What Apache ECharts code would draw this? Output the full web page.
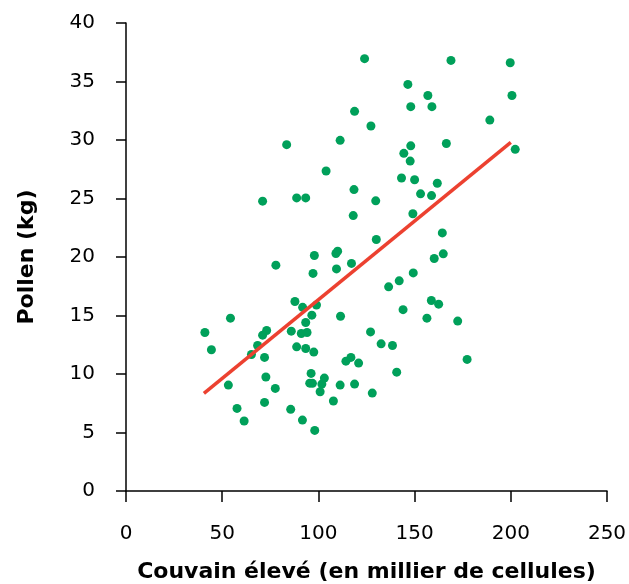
<!DOCTYPE html>
<html>
<head>
<meta charset="utf-8">
<script src="https://cdn.jsdelivr.net/npm/echarts@6/dist/echarts.min.js"></script>
<style>
  html, body { margin: 0; padding: 0; background: #fff; }
  #chart { width: 629px; height: 584px; }
</style>
</head>
<body>
<div id="chart"></div>
<script>
// couvain (milliers de cellules) vs pollen (kg)
var broodX = [
  124.0, 168.9, 199.7, 146.5, 156.9, 148.0, 159.0, 200.6, 118.8, 127.3,
  189.1, 111.3, 148.0, 166.5, 144.4, 147.7, 202.3, 143.2, 150.0, 83.5,
  104.0, 71.0, 88.7, 93.4, 97.9, 77.9, 97.2, 109.1, 110.0, 109.4,
  87.8, 91.8, 99.0, 161.8, 118.5, 129.8, 153.1, 158.8, 118.1, 149.1,
  164.4, 130.1, 117.2, 160.2, 164.9, 149.3, 142.0, 136.5, 158.7, 162.5,
  144.0, 54.3, 41.0, 44.4, 73.1, 71.0, 68.4, 65.2, 72.0, 96.6,
  93.4, 85.9, 91.1, 94.1, 88.7, 93.4, 97.6, 111.5, 72.7, 53.2,
  77.6, 72.0, 57.7, 61.4, 96.2, 95.5, 96.9, 103.1, 101.8, 100.9,
  111.3, 107.8, 85.6, 91.7, 98.1, 156.4, 172.4, 127.1, 132.6, 138.5,
  116.9, 114.3, 120.9, 177.3, 140.7, 118.8, 128.0
];
var pollenY = [
  36.95, 36.8, 36.6, 34.75, 33.8, 32.85, 32.85, 33.8, 32.45, 31.2,
  31.7, 29.97, 29.5, 29.7, 28.86, 28.2, 29.2, 26.75, 26.6, 29.6,
  27.35, 24.77, 25.05, 25.05, 20.13, 19.3, 18.6, 20.3, 20.5, 18.98,
  16.2, 15.7, 15.9, 26.3, 25.76, 24.8, 25.4, 25.25, 23.54, 23.7,
  22.06, 21.5, 19.45, 19.87, 20.27, 18.64, 17.96, 17.45, 16.28, 15.97,
  15.5, 14.77, 13.55, 12.07, 13.72, 13.32, 12.44, 11.67, 11.42, 15.03,
  14.4, 13.66, 13.46, 13.55, 12.32, 12.18, 11.87, 14.94, 9.74, 9.05,
  8.77, 7.57, 7.06, 5.98, 10.05, 9.22, 9.2, 9.65, 9.14, 8.48,
  9.05, 7.69, 6.98, 6.06, 5.18, 14.77, 14.52, 13.6, 12.58, 12.44,
  11.42, 11.1, 10.93, 11.25, 10.16, 9.14, 8.37
];
// droite de tendance (ends)
var trendX = [40.5, 200];
var trendY = [8.35, 29.8];

var xTicks = { min: 0, max: 250, step: 50 };
var yTicks = { min: 0, max: 40, step: 5 };

var points = broodX.map(function (x, i) { return [x, pollenY[i]]; });
var trend = trendX.map(function (x, i) { return [x, trendY[i]]; });

var font = '"DejaVu Sans", "Liberation Sans", sans-serif';
var chart = echarts.init(document.getElementById('chart'));
chart.setOption({
  animation: false,
  grid: { left: 126, right: 22, top: 23, bottom: 93, outerBoundsMode: 'none' },
  xAxis: {
    type: 'value',
    min: xTicks.min, max: xTicks.max, interval: xTicks.step,
    name: 'Couvain élevé (en millier de cellules)',
    nameLocation: 'middle', nameGap: 70,
    nameTextStyle: { color: '#000', fontFamily: font, fontSize: 22, fontWeight: 'bold' },
    axisLine: { show: true, onZero: false, lineStyle: { color: '#000', width: 1.5 } },
    axisTick: { show: true, length: 11, lineStyle: { color: '#000', width: 1.5 } },
    axisLabel: { color: '#000', fontFamily: font, fontSize: 20, margin: 33 },
    splitLine: { show: false }
  },
  yAxis: {
    type: 'value',
    min: yTicks.min, max: yTicks.max, interval: yTicks.step,
    name: 'Pollen (kg)',
    nameLocation: 'middle', nameGap: 88,
    nameTextStyle: { color: '#000', fontFamily: font, fontSize: 22, fontWeight: 'bold' },
    axisLine: { show: true, onZero: false, lineStyle: { color: '#000', width: 1.5 } },
    axisTick: { show: true, length: 10, lineStyle: { color: '#000', width: 1.5 } },
    axisLabel: { color: '#000', fontFamily: font, fontSize: 20, margin: 31 },
    splitLine: { show: false }
  },
  series: [
    {
      type: 'scatter',
      data: points,
      symbolSize: 9,
      itemStyle: { color: '#00a05a', opacity: 1 },
      z: 2
    },
    {
      type: 'line',
      data: trend,
      symbol: 'none',
      lineStyle: { color: '#ec4130', width: 3.5 },
      z: 3
    }
  ]
});
</script>
</body>
</html>
